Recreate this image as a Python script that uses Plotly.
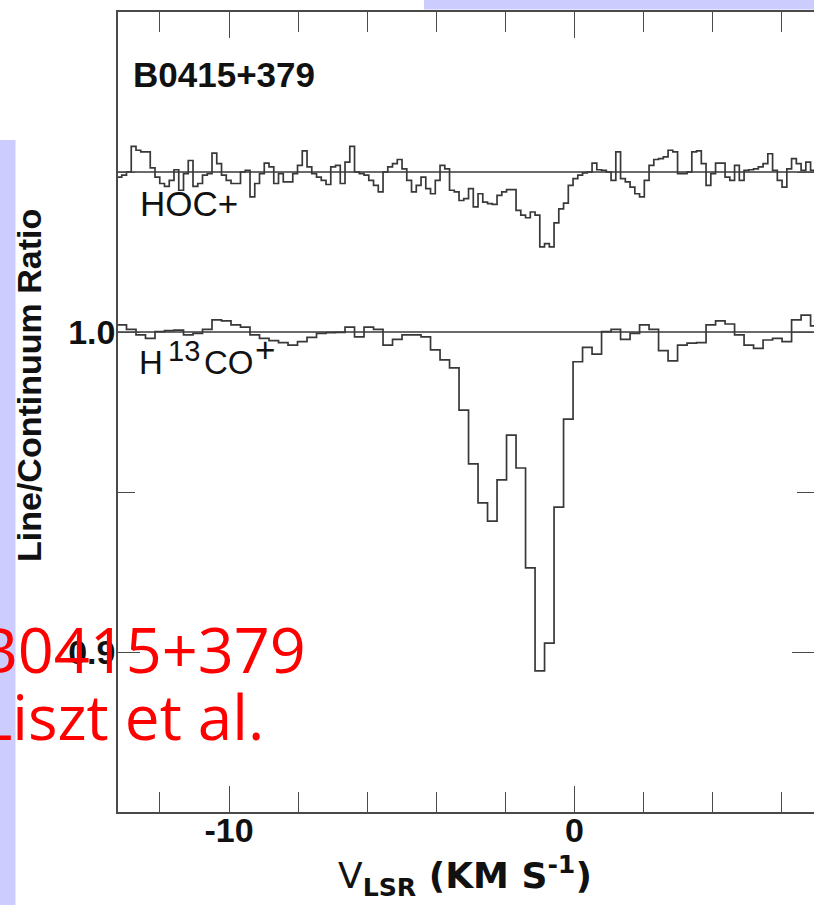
import numpy as np
import plotly.graph_objects as go

# ---------------- data ----------------
V_START = -13.242          # km/s, left edge of first channel
H13_DV = 0.275             # H13CO+ channel width (km/s)
HOC_DV = 0.1375            # HOC+ channel width (km/s)
HOC_OFFSET = 0.05          # vertical offset of the HOC+ spectrum

h13co_ratio = [
    1.0022, 1.0008, 0.9991, 0.9980, 1.0001, 1.0004, 1.0006, 0.9991, 0.9996, 1.0008,
    1.0038, 1.0035, 1.0022, 1.0015, 0.9991, 0.9980, 0.9973, 0.9967, 0.9959, 0.9970,
    0.9983, 0.9996, 0.9998, 0.9999, 1.0015, 0.9985, 1.0015, 1.0008, 0.9959, 0.9977,
    0.9991, 0.9991, 0.9985, 0.9944, 0.9913, 0.9888, 0.9756, 0.9588, 0.9466, 0.9409,
    0.9538, 0.9678, 0.9575, 0.9263, 0.8941, 0.9028, 0.9453, 0.9728, 0.9907, 0.9952,
    0.9931, 1.0001, 1.0008, 0.9977, 0.9996, 1.0022, 1.0008, 0.9942, 0.9910, 0.9959,
    0.9965, 0.9967, 1.0022, 1.0035, 1.0025, 0.9991, 0.9959, 0.9949, 0.9975, 0.9980,
    0.9970, 1.0038, 1.0053, 1.0019,
]

hoc_ratio = [
    0.9984, 0.9990, 1.0000, 1.0080, 1.0068, 1.0063, 1.0063, 1.0013, 0.9984, 0.9964,
    0.9955, 0.9974, 1.0007, 0.9943, 0.9995, 1.0036, 0.9955, 0.9964, 0.9990, 0.9995,
    1.0059, 1.0026, 0.9990, 0.9974, 0.9964, 0.9964, 1.0000, 1.0005, 0.9922, 0.9964,
    0.9995, 1.0028, 1.0016, 0.9964, 0.9995, 0.9969, 0.9969, 0.9995, 1.0021, 1.0066,
    1.0016, 0.9995, 0.9984, 0.9974, 0.9961, 1.0016, 1.0021, 0.9964, 1.0031, 1.0080,
    1.0000, 0.9995, 0.9990, 0.9974, 0.9958, 0.9938, 1.0000, 1.0016, 1.0026, 1.0039,
    1.0010, 0.9974, 0.9938, 0.9958, 0.9984, 0.9948, 0.9932, 0.9974, 1.0021, 1.0010,
    0.9943, 0.9938, 0.9911, 0.9917, 0.9948, 0.9891, 0.9932, 0.9906, 0.9901, 0.9899,
    0.9927, 0.9938, 0.9945, 0.9945, 0.9880, 0.9865, 0.9857, 0.9875, 0.9865, 0.9766,
    0.9776, 0.9766, 0.9841, 0.9885, 0.9903, 0.9958, 0.9979, 0.9990, 0.9997, 1.0000,
    1.0028, 1.0007, 1.0005, 1.0000, 0.9974, 1.0063, 0.9979, 0.9969, 0.9953, 0.9932,
    0.9922, 0.9974, 1.0021, 1.0039, 1.0042, 1.0047, 1.0068, 1.0063, 0.9995, 0.9995,
    1.0000, 1.0063, 1.0066, 1.0026, 0.9958, 0.9995, 1.0028, 1.0028, 0.9984, 0.9974,
    1.0021, 0.9974, 1.0005, 1.0007, 1.0010, 1.0016, 1.0026, 1.0057, 1.0005, 0.9974,
    0.9953, 1.0010, 1.0042, 1.0026, 1.0005, 1.0031, 1.0005,
]

X_RANGE = [-13.213, 6.932]
Y_RANGE = [0.85, 1.10]
X_TICKS = [-10, 0]
X_TICK_TEXT = ["-10", "0"]
Y_TICKS = [0.9, 1.0]
Y_TICK_TEXT = ["0.9", "1.0"]

# ---------------- figure geometry ----------------
W, H = 814, 905
ML, MR, MT, MB = 118, 0, 12, 93
PW, PH = W - ML - MR, H - MT - MB


def px(x):
    return (x - ML) / PW


def py(y):
    return (H - MB - y) / PH


LINE = "#383838"
AX = "#4a4a4a"
LAV = "#ccccff"

fig = go.Figure()

# spectra as step plots
h13_edges = V_START + H13_DV * np.arange(len(h13co_ratio) + 1)
fig.add_trace(go.Scatter(
    x=h13_edges, y=list(h13co_ratio) + [h13co_ratio[-1]],
    mode="lines", line=dict(color=LINE, width=1.7, shape="hv"),
    hoverinfo="skip", showlegend=False))

hoc_edges = V_START + HOC_DV * np.arange(len(hoc_ratio) + 1)
hoc_plot = np.array(list(hoc_ratio) + [hoc_ratio[-1]]) + HOC_OFFSET
fig.add_trace(go.Scatter(
    x=hoc_edges, y=hoc_plot,
    mode="lines", line=dict(color=LINE, width=1.7, shape="hv"),
    hoverinfo="skip", showlegend=False))

# baselines
for base in (1.0, 1.0 + HOC_OFFSET):
    fig.add_trace(go.Scatter(
        x=X_RANGE, y=[base, base], mode="lines",
        line=dict(color=LINE, width=1.6), hoverinfo="skip", showlegend=False))

# invisible trace on the right-hand tick axis
fig.add_trace(go.Scatter(x=X_RANGE, y=[1.0, 1.0], yaxis="y2", mode="lines",
                         line=dict(width=0), hoverinfo="skip", showlegend=False))

tickfont = dict(family="Liberation Sans, Arial, sans-serif", size=34,
                color="#111111", weight="bold")

fig.update_layout(
    width=W, height=H,
    margin=dict(l=ML, r=MR, t=MT, b=MB, pad=0),
    paper_bgcolor="white", plot_bgcolor="white",
    showlegend=False,
    xaxis=dict(
        range=X_RANGE, showgrid=False, zeroline=False,
        showline=True, linecolor=AX, linewidth=1.5, mirror="ticks",
        ticks="inside", ticklen=26, tickwidth=1.3, tickcolor=AX,
        tickmode="array", tickvals=X_TICKS, ticktext=X_TICK_TEXT,
        tickfont=tickfont, ticklabelstandoff=-13,
        minor=dict(ticks="inside", dtick=2, tick0=0, ticklen=20,
                   tickwidth=1.3, tickcolor=AX, showgrid=False),
    ),
    yaxis=dict(
        range=Y_RANGE, showgrid=False, zeroline=False,
        showline=True, linecolor=AX, linewidth=1.5,
        ticks="inside", ticklen=22, tickwidth=1.3, tickcolor=AX,
        tickmode="array", tickvals=Y_TICKS, ticktext=Y_TICK_TEXT,
        tickfont=tickfont, ticklabelstandoff=-6,
        minor=dict(ticks="inside", dtick=0.05, tick0=0.85, ticklen=17,
                   tickwidth=1.3, tickcolor=AX, showgrid=False),
    ),
    yaxis2=dict(
        range=Y_RANGE, overlaying="y", side="right", anchor="x",
        showgrid=False, zeroline=False, showline=False, showticklabels=False,
        ticks="inside", ticklen=22, tickwidth=1.3, tickcolor=AX,
        tickmode="array", tickvals=Y_TICKS,
        minor=dict(ticks="inside", dtick=0.05, tick0=0.85, ticklen=17,
                   tickwidth=1.3, tickcolor=AX, showgrid=False),
    ),
)

# lavender slide background pieces
fig.add_shape(type="rect", xref="paper", yref="paper",
              x0=px(0), x1=px(15.5), y0=py(905), y1=py(140),
              fillcolor=LAV, line=dict(width=0), layer="below")
fig.add_shape(type="rect", xref="paper", yref="paper",
              x0=px(424), x1=px(814), y0=py(9.5), y1=py(-5),
              fillcolor=LAV, line=dict(width=0), layer="below")

SANS = "Liberation Sans, Arial, sans-serif"
BLK = "#111111"
ann = []
ann.append(dict(text="<b>B0415+379</b>", x=px(131), y=py(75), xanchor="left",
                yanchor="middle", font=dict(family=SANS, size=35, color=BLK)))
ann.append(dict(text="HOC+", x=px(138), y=py(203), xanchor="left",
                yanchor="middle", font=dict(family=SANS, size=35, color=BLK)))
# H13CO+ label, built from pieces so the superscripts keep their large size
for txt, lx, cy, fs in (("H", 137, 362, 33), ("13", 166, 351, 29),
                        ("CO", 202, 362, 33), ("+", 253, 349, 35)):
    ann.append(dict(text=txt, x=px(lx), y=py(cy), xanchor="left",
                    yanchor="middle", font=dict(family=SANS, size=fs, color=BLK)))
ann.append(dict(text="<b>Line/Continuum Ratio</b>", x=px(29), y=py(386), textangle=-90,
                xanchor="center", yanchor="middle",
                font=dict(family=SANS, size=34, color=BLK)))
ann.append(dict(text="V<b><sub>LSR</sub> (KM S<sup>-1</sup>)</b>", x=px(465), y=py(876),
                xanchor="center", yanchor="middle",
                font=dict(family="DejaVu Sans", size=36, color=BLK)))
ann.append(dict(text="B0415+379", x=px(-25), y=py(648), xanchor="left",
                yanchor="middle", font=dict(family="Open Sans", size=63, color="#ff0000")))
ann.append(dict(text="Liszt et al.", x=px(-22), y=py(716), xanchor="left",
                yanchor="middle", font=dict(family="Open Sans", size=62, color="#ff0000")))
for a in ann:
    a.update(xref="paper", yref="paper", showarrow=False)
fig.update_layout(annotations=ann)

fig.write_html("out.html")
